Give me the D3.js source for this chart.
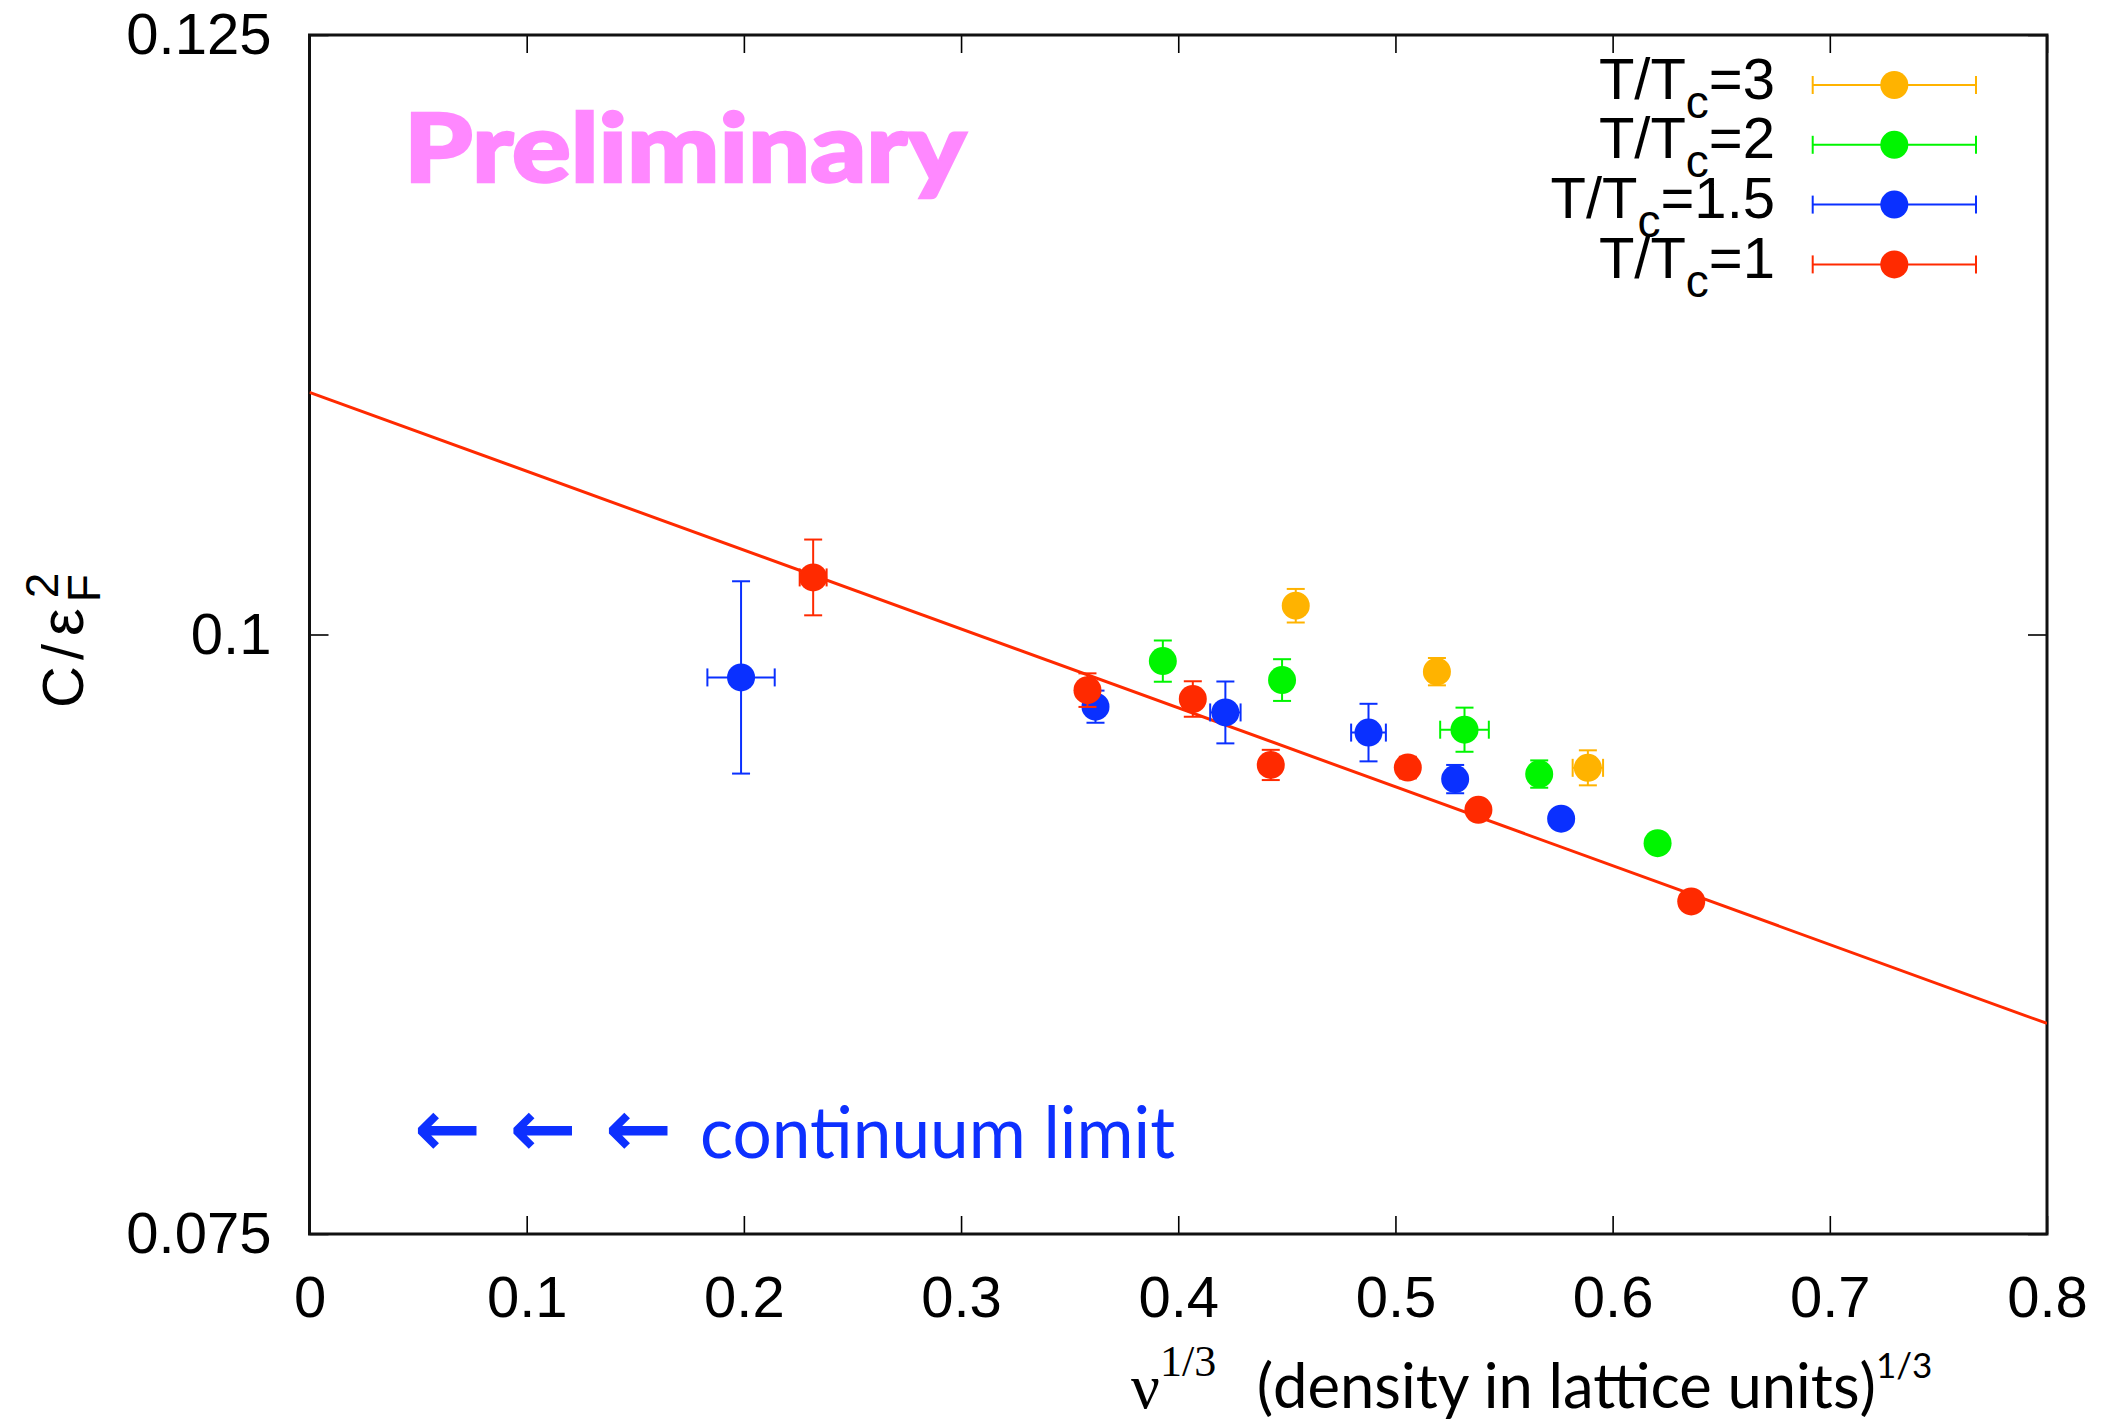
<!DOCTYPE html>
<html>
<head>
<meta charset="utf-8">
<script src="https://cdn.jsdelivr.net/npm/d3@7"></script>
<style>
  html, body { margin: 0; padding: 0; background: #fff; }
  svg { display: block; }
</style>
</head>
<body>
<svg id="chart" width="2110" height="1422"></svg>
<script>
// ---- data: specific heat coefficient vs. lattice density^(1/3) ----
// T/Tc = 1
const red_x    = [0.2319, 0.3582, 0.4067, 0.4426, 0.5057, 0.5382, 0.6362];
const red_y    = [0.10238, 0.09768, 0.09731, 0.09456, 0.09445, 0.09269, 0.08887];
const red_yerr = [0.00158, 0.00070, 0.00074, 0.00063, 0.00045, 0.00040, 0.00040];
const red_xerr = [0.0062, 0, 0, 0, 0, 0, 0];
// T/Tc = 1.5
const blue_x    = [0.1987, 0.3619, 0.4217, 0.4876, 0.5275, 0.5763];
const blue_y    = [0.09821, 0.09699, 0.09675, 0.09591, 0.09397, 0.09232];
const blue_yerr = [0.00401, 0.00067, 0.00129, 0.00120, 0.00059, 0.00040];
const blue_xerr = [0.0155, 0, 0.0070, 0.0080, 0, 0];
// T/Tc = 2
const green_x    = [0.3929, 0.4478, 0.5318, 0.5662, 0.6207];
const green_y    = [0.09889, 0.09810, 0.09603, 0.09418, 0.09130];
const green_yerr = [0.00086, 0.00087, 0.00092, 0.00057, 0.00040];
const green_xerr = [0, 0, 0.0112, 0, 0];
// T/Tc = 3
const orange_x    = [0.4541, 0.5191, 0.5886];
const orange_y    = [0.10120, 0.09845, 0.09444];
const orange_yerr = [0.00070, 0.00057, 0.00073];
const orange_xerr = [0, 0, 0.0070];

// linear extrapolation of the T/Tc=1 data to the continuum
const fit_intercept = 0.1101;
const fit_slope = -0.0329;

const legend_values = ["3", "2", "1.5", "1"];
const x_ticks = [0, 0.1, 0.2, 0.3, 0.4, 0.5, 0.6, 0.7, 0.8];
const x_tick_labels = ["0", "0.1", "0.2", "0.3", "0.4", "0.5", "0.6", "0.7", "0.8"];
const y_ticks = [0.075, 0.1, 0.125];
const y_tick_labels = ["0.075", "0.1", "0.125"];

// ---- layout ----
const plot = { left: 309.5, right: 2047, top: 35, bottom: 1234 };
const SANS = "'Liberation Sans', Arial, Helvetica, sans-serif";
const HUMANIST = "Lato, 'Open Sans', sans-serif";
const SERIF = "'Liberation Serif', 'Times New Roman', serif";
const FS = 58;       // main label size
const R = 14;        // marker radius
const CAP = 9;       // error bar cap half length

const svg = d3.select("#chart");
const x = d3.scaleLinear().domain([0, 0.8]).range([plot.left, plot.right]);
const y = d3.scaleLinear().domain([0.075, 0.125]).range([plot.bottom, plot.top]);

svg.append("defs").append("clipPath").attr("id", "plotclip")
  .append("rect")
  .attr("x", plot.left).attr("y", plot.top)
  .attr("width", plot.right - plot.left).attr("height", plot.bottom - plot.top);

// ---- axes (ticks point inward, mirrored on top/right) ----
function styleAxis(g) {
  g.select(".domain").remove();
  g.selectAll(".tick line").attr("stroke", "#000").attr("stroke-width", 1.6);
  g.selectAll(".tick text").attr("fill", "#000")
    .style("font-family", SANS).style("font-size", FS + "px");
}

svg.append("g")
  .attr("transform", `translate(0,${plot.bottom})`)
  .call(d3.axisBottom(x).tickValues(x_ticks)
    .tickFormat((d, i) => x_tick_labels[i])
    .tickSizeInner(-18).tickSizeOuter(0).tickPadding(42))
  .call(styleAxis);

svg.append("g")
  .attr("transform", `translate(0,${plot.top})`)
  .call(d3.axisTop(x).tickValues(x_ticks).tickFormat("")
    .tickSizeInner(-18).tickSizeOuter(0))
  .call(styleAxis);

svg.append("g")
  .attr("transform", `translate(${plot.left},0)`)
  .call(d3.axisLeft(y).tickValues(y_ticks)
    .tickFormat((d, i) => y_tick_labels[i])
    .tickSizeInner(-19).tickSizeOuter(0).tickPadding(38))
  .call(styleAxis);

svg.append("g")
  .attr("transform", `translate(${plot.right},0)`)
  .call(d3.axisRight(y).tickValues(y_ticks).tickFormat("")
    .tickSizeInner(-19).tickSizeOuter(0))
  .call(styleAxis);

// frame
svg.append("rect")
  .attr("x", plot.left).attr("y", plot.top)
  .attr("width", plot.right - plot.left).attr("height", plot.bottom - plot.top)
  .attr("fill", "none").attr("stroke", "#111").attr("stroke-width", 3);

// ---- axis titles ----
const ylab = svg.append("text")
  .attr("transform", `translate(83,708) rotate(-90)`)
  .attr("fill", "#000")
  .style("font-family", SANS).style("font-size", FS + "px");
ylab.append("tspan").text("C");
ylab.append("tspan").attr("dx", 6).text("/");
ylab.append("tspan").attr("dx", 8).style("font-size", "62px").text("ε");
ylab.append("tspan").attr("dx", 6).attr("dy", 17).style("font-size", "46px").text("F");
ylab.append("tspan").attr("dx", -24).attr("dy", -42).style("font-size", "46px").text("2");

const xlab = svg.append("text")
  .attr("x", 1131).attr("y", 1408).attr("fill", "#000")
  .style("font-family", HUMANIST).style("font-size", "61.5px");
xlab.append("tspan").style("font-family", SERIF).style("font-size", "64px").text("ν");
xlab.append("tspan").style("font-family", SERIF).style("font-size", "44px")
  .attr("dy", -32).text("1/3");
xlab.append("tspan").attr("x", 1256.7).attr("dy", 32).text("(density in lattice units)");
xlab.append("tspan").style("font-size", "35px").attr("dy", -30).text("1/3");

// ---- fit line ----
const line = d3.line().x(d => x(d)).y(d => y(fit_intercept + fit_slope * d));
svg.append("path")
  .datum([0, 0.8])
  .attr("clip-path", "url(#plotclip)")
  .attr("d", line)
  .attr("fill", "none").attr("stroke", "#ff2a00").attr("stroke-width", 3);

// ---- data series, drawn from highest T so T/Tc=1 ends on top ----
const series = [
  { value: legend_values[0], color: "#ffb300", xs: orange_x, ys: orange_y, ye: orange_yerr, xe: orange_xerr },
  { value: legend_values[1], color: "#00f500", xs: green_x,  ys: green_y,  ye: green_yerr,  xe: green_xerr },
  { value: legend_values[2], color: "#0a30ff", xs: blue_x,   ys: blue_y,   ye: blue_yerr,   xe: blue_xerr },
  { value: legend_values[3], color: "#ff2a00", xs: red_x,    ys: red_y,    ye: red_yerr,    xe: red_xerr }
];

series.forEach(s => {
  const pts = s.xs.map((v, i) => ({ x: v, y: s.ys[i], ye: s.ye[i], xe: s.xe[i] }));
  const g = svg.append("g").attr("stroke", s.color).attr("fill", s.color);
  const p = g.selectAll("g.pt").data(pts).join("g").attr("class", "pt");
  // vertical error bars
  const yb = p.filter(d => d.ye > 0);
  yb.append("line")
    .attr("x1", d => x(d.x)).attr("x2", d => x(d.x))
    .attr("y1", d => y(d.y - d.ye)).attr("y2", d => y(d.y + d.ye))
    .attr("stroke-width", 2);
  yb.append("line")
    .attr("x1", d => x(d.x) - CAP).attr("x2", d => x(d.x) + CAP)
    .attr("y1", d => y(d.y + d.ye)).attr("y2", d => y(d.y + d.ye))
    .attr("stroke-width", 2);
  yb.append("line")
    .attr("x1", d => x(d.x) - CAP).attr("x2", d => x(d.x) + CAP)
    .attr("y1", d => y(d.y - d.ye)).attr("y2", d => y(d.y - d.ye))
    .attr("stroke-width", 2);
  // horizontal error bars
  const xb = p.filter(d => d.xe > 0);
  xb.append("line")
    .attr("x1", d => x(d.x - d.xe)).attr("x2", d => x(d.x + d.xe))
    .attr("y1", d => y(d.y)).attr("y2", d => y(d.y))
    .attr("stroke-width", 2);
  xb.append("line")
    .attr("x1", d => x(d.x - d.xe)).attr("x2", d => x(d.x - d.xe))
    .attr("y1", d => y(d.y) - CAP).attr("y2", d => y(d.y) + CAP)
    .attr("stroke-width", 2);
  xb.append("line")
    .attr("x1", d => x(d.x + d.xe)).attr("x2", d => x(d.x + d.xe))
    .attr("y1", d => y(d.y) - CAP).attr("y2", d => y(d.y) + CAP)
    .attr("stroke-width", 2);
  p.append("circle")
    .attr("cx", d => x(d.x)).attr("cy", d => y(d.y)).attr("r", R)
    .attr("stroke", "none");
});

// ---- key ----
const key = { textRight: 1775, barLeft: 1812.7, barRight: 1976, dot: 1894.3, top: 85, step: 59.8 };
series.forEach((s, i) => {
  const cy = key.top + i * key.step;
  const g = svg.append("g");
  const t = g.append("text")
    .attr("x", key.textRight).attr("y", cy + 13.5)
    .attr("text-anchor", "end").attr("fill", "#000")
    .style("font-family", SANS).style("font-size", FS + "px");
  t.append("tspan").text("T/T");
  t.append("tspan").attr("dy", 19).style("font-size", "46px").text("c");
  t.append("tspan").attr("dy", -19).text("=" + s.value);
  g.append("line").attr("x1", key.barLeft).attr("x2", key.barRight)
    .attr("y1", cy).attr("y2", cy).attr("stroke", s.color).attr("stroke-width", 2);
  [key.barLeft, key.barRight].forEach(cx => {
    g.append("line").attr("x1", cx).attr("x2", cx)
      .attr("y1", cy - CAP).attr("y2", cy + CAP)
      .attr("stroke", s.color).attr("stroke-width", 2);
  });
  g.append("circle").attr("cx", key.dot).attr("cy", cy).attr("r", R).attr("fill", s.color);
});

// ---- annotations ----
svg.append("text")
  .attr("x", 404).attr("y", 182)
  .attr("fill", "#ff88ff").attr("stroke", "#ff88ff").attr("stroke-width", 2.5)
  .attr("textLength", 562).attr("lengthAdjust", "spacingAndGlyphs")
  .style("font-family", HUMANIST).style("font-weight", 900).style("font-size", "95px")
  .text("Preliminary");

const arrows = [414, 509.5, 605];
svg.append("g").selectAll("text").data(arrows).join("text")
  .attr("x", d => d).attr("y", 1156)
  .attr("fill", "#0d30ff")
  .style("font-family", "'DejaVu Sans', sans-serif").style("font-weight", "bold")
  .style("font-size", "80px")
  .text("←");

svg.append("text")
  .attr("x", 700).attr("y", 1158)
  .attr("fill", "#0d30ff")
  .attr("textLength", 475).attr("lengthAdjust", "spacingAndGlyphs")
  .style("font-family", HUMANIST).style("font-size", "72px")
  .text("continuum limit");
</script>
</body>
</html>
